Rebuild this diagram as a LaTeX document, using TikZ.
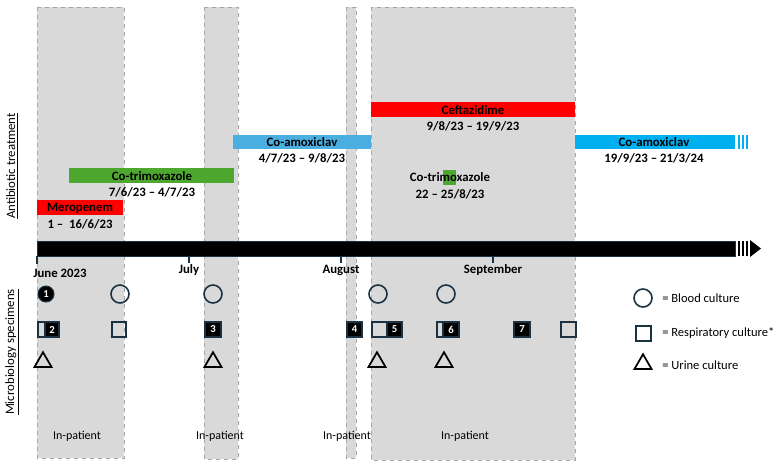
\documentclass[tikz,border=0pt]{standalone}
\usepackage{fontspec}
\setmainfont{Carlito}
\usetikzlibrary{shapes.geometric}
\definecolor{boxgrey}{HTML}{D9D9D9}
\definecolor{dashgrey}{HTML}{A6A6A6}
\definecolor{abred}{HTML}{FF0000}
\definecolor{abgreen}{HTML}{4EA72E}
\definecolor{abblue}{HTML}{4BAEE0}
\definecolor{abcyan}{HTML}{00B0F0}
\definecolor{navy}{HTML}{1B3243}
\tikzset{
  inpatient/.style={fill=boxgrey,draw=dashgrey,dashed,line width=0.6pt},
  lbl/.style={font=\fontsize{9.6}{11}\selectfont\bfseries,inner sep=0pt},
  txt/.style={font=\fontsize{9}{10}\selectfont,inner sep=0pt},
  opencirc/.style={circle,draw=navy,line width=1.2pt,minimum size=13.5pt,inner sep=0pt},
  fillcirc/.style={circle,fill=black,draw=navy,line width=0.8pt,minimum size=12pt,inner sep=0pt,text=white,font=\fontsize{8}{8}\selectfont\bfseries},
  opensq/.style={draw=navy,line width=1.2pt},
  fillsq/.style={fill=black,draw=navy,line width=0.8pt},
  numtxt/.style={text=white,font=\fontsize{8}{8}\selectfont\bfseries,inner sep=0pt},
  tri/.style={isosceles triangle,isosceles triangle apex angle=60,shape border rotate=90,draw=black,line width=1.3pt,minimum height=11pt,inner sep=0pt},
  tick/.style={line width=1pt,draw=navy}
}
\begin{document}
\begin{tikzpicture}[x=0.75pt,y=-0.75pt]
\useasboundingbox (0,0) rectangle (781,468);
% in-patient boxes
\draw[inpatient] (37,7) rectangle (124,458);
\draw[inpatient] (204,7) rectangle (238,459);
\draw[inpatient] (346,7) rectangle (356,458);
\draw[inpatient] (371,7) rectangle (575,460);
% axis labels
\node[txt,rotate=90,font=\fontsize{9.6}{10}\selectfont] (ylab1) at (12,166) {\underline{Antibiotic treatment}};
\node[txt,rotate=90,font=\fontsize{9.6}{10}\selectfont] (ylab2) at (12,352) {\underline{Microbiology specimens}};
% drug bars
\fill[abred] (37,200) rectangle (123,215);
\node[lbl] (mero) at (80,208) {Meropenem};
\node[lbl] (merod) at (80,224.5) {1 –\ \ 16/6/23};
\fill[abgreen] (69,168) rectangle (234,183);
\node[lbl] (cotri) at (152,176) {Co-trimoxazole};
\node[lbl] (cotrid) at (152,192.5) {7/6/23 – 4/7/23};
\fill[abblue] (233,135) rectangle (371,149);
\node[lbl] (coam) at (302,142) {Co-amoxiclav};
\node[lbl] (coamd) at (302,158.5) {4/7/23 – 9/8/23};
\fill[abred] (371,102) rectangle (575,117);
\node[lbl] (ceft) at (473,110) {Ceftazidime};
\node[lbl] (ceftd) at (473,126) {9/8/23 – 19/9/23};
\fill[abgreen] (443,170) rectangle (456,185);
\node[lbl] (cotri2) at (450,177.5) {Co-trimoxazole};
\node[lbl] (cotri2d) at (450,194) {22 – 25/8/23};
\fill[abcyan] (575,135) rectangle (735,149);
\fill[abcyan] (738,135) rectangle (740,149);
\fill[abcyan] (742,135) rectangle (744,149);
\fill[abcyan] (746,135) rectangle (748,149);
\node[lbl] (coam2) at (654,142) {Co-amoxiclav};
\node[lbl] (coam2d) at (654,158.5) {19/9/23 – 21/3/24};
% timeline
\draw[fill=black,draw=navy,line width=0.6pt] (37,241) rectangle (735,256);
\fill[black] (738,241) rectangle (740,256);
\fill[black] (742,241) rectangle (744,256);
\fill[black] (746,241) rectangle (748,256);
\fill[black] (750,240) -- (761,248.5) -- (750,257) -- cycle;
\coordinate (t1) at (37,256); \coordinate (t2) at (189,256);
\coordinate (t3) at (341,256); \coordinate (t4) at (493,256);
\draw[tick] (t1) -- ++(0,8);
\draw[tick] (t2) -- ++(0,7);
\draw[tick] (t3) -- ++(0,7);
\draw[tick] (t4) -- ++(0,7);
\node[lbl,anchor=west] (jun) at (33,273) {June 2023};
\node[lbl] (jul) at (189,270) {July};
\node[lbl] (aug) at (341,270) {August};
\node[lbl] (sep) at (493,270) {September};
% circles
\node[fillcirc] (c1) at (46,294) {1};
\node[opencirc] (c2) at (120,294) {};
\node[opencirc] (c3) at (213,294) {};
\node[opencirc] (c4) at (378,294) {};
\node[opencirc] (c5) at (446,294) {};
% squares
\draw[opensq] (38,322) rectangle (45,337);
\draw[fillsq] (45,322) rectangle (59,337);
\node[numtxt] (n2) at (52,329.5) {2};
\draw[opensq] (112,322) rectangle (126,337);
\draw[fillsq] (205,322) rectangle (221,337);
\node[numtxt] (n3) at (213,329.5) {3};
\draw[fillsq] (347,322) rectangle (362,337);
\node[numtxt] (n4) at (354.5,329.5) {4};
\draw[opensq] (372,322) rectangle (387,337);
\draw[fillsq] (387,322) rectangle (402,337);
\node[numtxt] (n5) at (394.5,329.5) {5};
\draw[opensq] (437,322) rectangle (443,337);
\draw[fillsq] (443,322) rectangle (459,337);
\node[numtxt] (n6) at (451,329.5) {6};
\draw[fillsq] (514,322) rectangle (530,337);
\node[numtxt] (n7) at (522,329.5) {7};
\draw[opensq] (561,322) rectangle (576,337);
% triangles
\node[tri] (tr1) at (43,362) {};
\node[tri] (tr2) at (213,362) {};
\node[tri] (tr3) at (377,362) {};
\node[tri] (tr4) at (444,362) {};
% legend
\node[opencirc] (lc) at (643,298) {};
\draw[opensq] (636,326) rectangle (651,341);
\node[tri] (lt) at (643,364) {};
\node[txt,anchor=west,font=\fontsize{9.4}{10}\selectfont] (lbc) at (662,298) {= Blood culture};
\node[txt,anchor=west,font=\fontsize{9.4}{10}\selectfont] (lrc) at (662,333) {= Respiratory culture*};
\node[txt,anchor=west,font=\fontsize{9.4}{10}\selectfont] (luc) at (662,365) {= Urine culture};
% in-patient labels
\node[txt] (ip1) at (77,436) {In-patient};
\node[txt] (ip2) at (220,436) {In-patient};
\node[txt] (ip3) at (347,436) {In-patient};
\node[txt] (ip4) at (465,436) {In-patient};
\end{tikzpicture}
\end{document}
